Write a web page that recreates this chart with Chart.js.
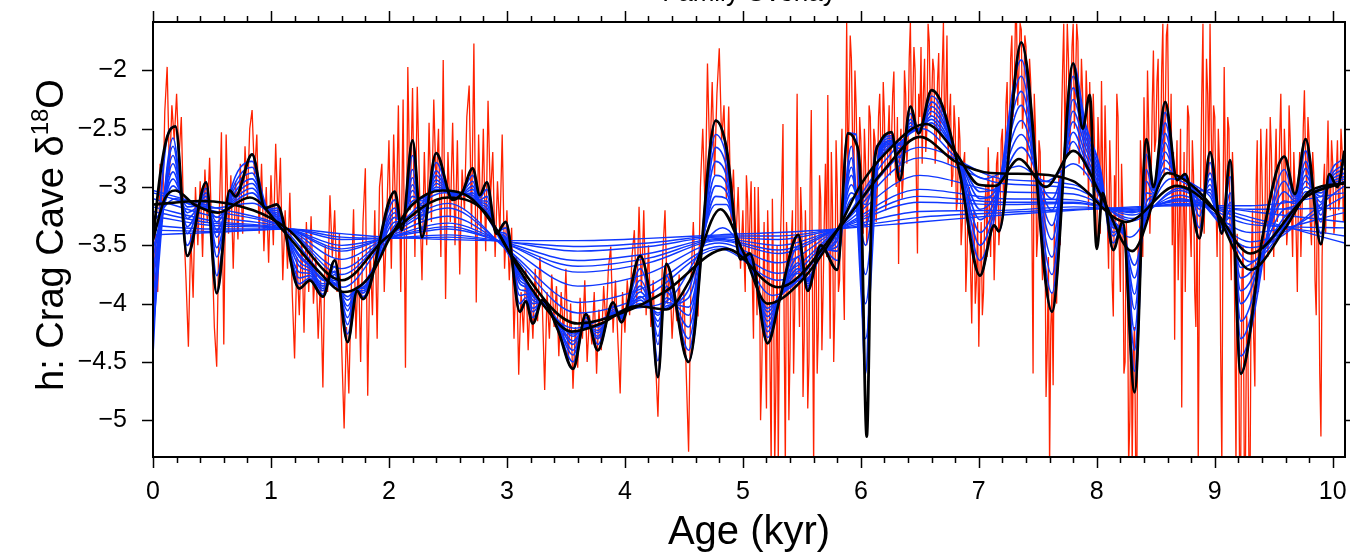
<!DOCTYPE html>
<html><head><meta charset="utf-8">
<script src="https://cdn.jsdelivr.net/npm/chart.js@4.4.1/dist/chart.umd.min.js"></script>
<style>html,body{margin:0;padding:0;background:#fff;overflow:hidden}#wrap{position:relative;width:1350px;height:554px}</style>
</head><body><div id="wrap"><canvas id="c" width="1350" height="554"></canvas></div>
<script>
// ---------- DATA ----------
const chartTitle = 'Family Overlay';
const xTitle = 'Age (kyr)';
const yTitleMain = 'h: Crag Cave \u03B4';
const yTitleSup = '18';
const yTitleEnd = 'O';
const xTickLabels = [0,1,2,3,4,5,6,7,8,9,10];
const yTickLabels = [-5,-4.5,-4,-3.5,-3,-2.5,-2];

// raw red record, part A: 0.00-4.98 kyr, step 0.02
const redAStart = 0, redAStep = 0.02;
const redAValues = [
-4.25,-3.4,-3.9,-2.8,-3.3,-2.35,-1.97,-2.9,-2.3,-2.6,-2.2,-2.75,-2.4,-3.3,-3.8,-4.37,-3.4,-3.95,-3.0,-3.5,-2.95,-3.6,-2.85,-3.3,-2.75,
-3.5,-4.2,-4.54,-3.3,-2.53,-4.35,-2.55,-3.4,-2.9,-3.7,-2.95,-3.45,-2.8,-3.4,-2.65,-3.1,-2.5,-2.34,-2.9,-2.55,-3.4,-2.8,-3.55,-3.0,-3.65,
-2.9,-3.5,-2.63,-3.3,-2.75,-3.8,-3.2,-3.7,-3.05,-3.9,-4.47,-3.6,-4.1,-3.4,-4.25,-3.3,-3.9,-3.25,-4.0,-3.6,-4.3,-3.8,-4.72,-3.5,-3.9,
-3.07,-3.6,-3.2,-3.9,-3.4,-4.4,-5.07,-4.2,-4.77,-3.9,-3.19,-4.3,-3.6,-4.5,-3.3,-2.84,-4.79,-3.5,-4.1,-3.2,-4.3,-3.0,-2.8,-3.9,-3.3,
-2.6,-3.7,-2.55,-3.4,-2.3,-3.9,-2.25,-4.55,-1.97,-3.2,-2.15,-3.6,-2.14,-3.05,-3.8,-2.7,-3.5,-2.45,-3.3,-2.25,-3.0,-2.5,-3.6,-1.91,-3.96,
-2.7,-3.3,-2.45,-3.5,-2.6,-3.75,-2.85,-3.2,-2.4,-2.13,-3.35,-1.77,-3.99,-2.55,-3.4,-2.5,-3.55,-2.26,-3.1,-2.7,-3.6,-2.95,-3.4,-2.55,-3.7,
-3.2,-3.8,-3.35,-4.3,-3.6,-4.61,-3.9,-4.25,-3.7,-4.4,-3.85,-4.3,-3.7,-4.15,-3.6,-4.0,-4.74,-3.9,-4.3,-3.75,-4.2,-3.85,-4.45,-3.9,-4.3,
-3.7,-4.5,-4.0,-4.73,-4.2,-4.55,-3.95,-4.3,-3.8,-4.5,-4.1,-4.35,-3.9,-4.6,-4.05,-4.4,-3.85,-4.2,-3.7,-3.51,-4.25,-3.8,-4.3,-4.77,-3.9,
-4.25,-3.8,-4.1,-3.6,-3.37,-4.0,-3.17,-3.9,-3.2,-4.1,-3.5,-4.2,-3.8,-4.5,-4.97,-4.2,-3.6,-3.2,-4.0,-3.7,-4.3,-3.9,-4.15,-3.75,-4.35,
-3.9,-4.6,-5.27,-3.8,-3.3,-3.9,-4.11,-3.0,-2.5,-3.2,-1.94,-2.8,-2.1,-2.9,-2.2,-1.81,-2.6,-2.3,-3.1,-2.31,-3.3,-2.85,-3.5,-3.0,-3.7
];
// raw red record, part B: 5.00-10.10 kyr, step 0.01 (denser sampling)
const redBStart = 5, redBStep = 0.01;
const redBValues = [
-3.2,-3.6,-3.9,-2.9,-3.1,-3.7,-3.26,-2.95,-3.8,-4.3,-3.0,-3.6,-4.1,-3.0,-3.5,-5.0,-4.6,-3.9,-3.3,-4.3,-4.9,-3.2,-3.6,-4.5,-5.4,-3.1,-3.8,-5.4,-4.7,-3.5,-5.4,-4.1,-3.4,-3.0,-2.46,-4.2,-5.4,-3.3,-3.6,-5.0,-4.4,-3.5,-3.2,-4.6,-4.0,-3.1,-2.2,-3.6,-4.2,-3.0,
-3.3,-4.8,-4.3,-3.2,-3.7,-4.9,-4.5,-3.0,-2.34,-3.9,-5.4,-3.4,-3.5,-4.6,-4.2,-2.9,-3.1,-4.4,-3.9,-3.3,-2.8,-3.6,-2.21,-3.4,-4.3,-2.7,-3.2,-4.5,-4.0,-2.6,-3.0,-3.9,-3.8,-2.9,-2.5,-3.7,-4.14,-2.8,-1.59,-2.9,-2.4,-1.7,-1.9,-2.6,-3.0,-2.0,-2.3,-2.9,-3.3,-2.4,
-2.6,-3.0,-3.4,-2.5,-2.8,-3.5,-3.1,-2.3,-2.4,-2.9,-3.2,-2.5,-2.6,-3.3,-3.0,-2.4,-2.2,-2.7,-2.9,-2.1,-2.4,-3.2,-3.1,-2.6,-2.3,-2.9,-2.6,-2.2,-2.01,-2.8,-3.0,-2.4,-3.66,-2.7,-2.5,-3.1,-2.9,-2.0,-2.2,-2.8,-2.6,-1.9,-1.59,-2.5,-2.3,-1.8,-2.0,-2.9,-3.57,-2.2,
-2.4,-1.8,-2.8,-2.2,-1.9,-2.7,-2.5,-1.6,-1.75,-2.4,-2.3,-1.9,-2.0,-2.8,-2.6,-2.1,-1.85,-2.6,-2.4,-2.0,-1.59,-2.5,-2.3,-1.7,-2.8,-2.4,-2.2,-3.0,-2.9,-2.3,-2.5,-3.2,-3.1,-2.4,-2.6,-3.5,-3.3,-2.8,-2.7,-3.9,-3.6,-3.1,-3.0,-3.7,-4.17,-3.4,-3.2,-4.0,-3.8,-3.3,
-4.37,-3.7,-3.3,-4.1,-3.9,-3.2,-3.0,-3.6,-2.66,-3.2,-3.6,-3.0,-2.9,-3.8,-3.4,-2.8,-2.7,-3.5,-3.3,-2.6,-2.5,-3.2,-2.9,-2.3,-2.1,-2.8,-2.5,-1.9,-1.7,-2.4,-2.2,-1.6,-1.6,-2.3,-2.0,-1.6,-1.65,-2.5,-2.3,-1.7,-1.8,-2.8,-2.6,-1.9,-2.1,-3.3,-4.6,-2.2,-2.5,-3.6,
-3.4,-2.6,-2.7,-3.5,-3.8,-2.9,-3.2,-4.8,-4.4,-3.6,-5.4,-4.2,-3.9,-4.7,-3.3,-3.8,-4.0,-3.1,-2.9,-3.5,-2.5,-2.0,-1.6,-2.6,-2.2,-1.6,-1.9,-2.7,-2.4,-1.8,-1.6,-2.5,-2.1,-1.6,-1.75,-2.8,-2.5,-1.9,-2.2,-2.9,-2.7,-2.0,-2.3,-3.2,-2.1,-2.6,-3.0,-2.2,-2.6,-3.4,
-3.5,-2.4,-2.7,-3.4,-2.09,-2.9,-3.2,-2.3,-2.8,-3.3,-3.7,-2.6,-3.0,-3.8,-4.11,-2.9,-3.3,-2.2,-2.4,-3.5,-3.9,-2.8,-3.2,-4.6,-4.5,-3.3,-3.6,-5.4,-5.0,-3.9,-5.4,-4.4,-4.2,-5.4,-5.4,-3.5,-3.8,-2.6,-2.9,-3.6,-2.23,-2.8,-3.2,-2.0,-2.5,-3.4,-3.0,-2.3,-1.83,-2.7,
-2.6,-2.1,-1.9,-3.0,-2.8,-2.0,-1.6,-2.9,-2.4,-1.7,-1.6,-2.5,-2.9,-2.2,-3.5,-2.7,-4.31,-3.0,-2.6,-3.8,-3.3,-2.5,-4.89,-3.4,-2.7,-3.9,-3.1,-2.3,-2.4,-3.3,-3.6,-2.6,-2.9,-3.9,-4.2,-3.0,-5.4,-3.7,-3.0,-2.2,-1.6,-3.4,-2.8,-1.9,-2.2,-2.9,-1.6,-2.5,-3.1,-2.3,
-2.4,-3.1,-3.6,-2.5,-2.8,-4.4,-5.4,-3.2,-1.97,-2.9,-3.3,-2.4,-2.5,-3.4,-3.8,-2.7,-3.0,-4.2,-5.4,-3.4,-4.0,-5.4,-5.4,-3.8,-3.5,-5.4,-5.4,-4.1,-4.3,-5.4,-5.4,-3.6,-3.2,-4.3,-4.71,-3.0,-2.6,-3.9,-3.5,-2.5,-2.9,-3.4,-3.8,-2.8,-2.5,-3.6,-3.3,-2.4,-2.7,-3.2,
-3.6,-2.9,-2.5,-3.3,-3.1,-2.6,-2.2,-2.9,-3.4,-2.5,-2.8,-3.5,-3.3,-2.3,-2.6,-3.2,-3.6,-2.7,-3.0,-3.4,-3.9,-3.0,-2.7,-3.6,-3.2,-2.5,-2.17,-2.8,-3.0,-2.4,-2.6,-3.3,-3.5,-2.7,-2.9,-3.8,-4.1,-3.1,-3.4,-4.6,-5.14,-3.6,-3.0,-2.8,-3.4,-2.9,-2.43,-3.1,-3.2,-2.6,-2.8,-3.4,-3.3,-2.9,-2.6,-3.2,-3.1,-2.5,-2.7,-3.3,-3.0
];

// finest smoothing (blue)
const fineX = [0,0.06,0.12,0.19,0.29,0.45,0.54,0.65,0.70,0.84,0.95,1.05,1.24,1.33,1.44,1.54,1.65,1.73,1.78,2.05,2.11,2.20,2.28,2.40,2.54,2.62,2.71,2.77,2.83,2.91,2.99,3.11,3.16,3.22,3.30,3.43,3.56,3.67,3.77,3.90,3.97,4.13,4.22,4.28,4.35,4.54,4.77,4.86,4.98,5.06,5.21,5.31,5.47,5.55,5.66,5.80,5.89,5.96,6.04,6.11,6.16,6.26,6.33,6.42,6.49,6.60,6.69,6.84,7.01,7.13,7.17,7.36,7.62,7.80,7.90,8.03,8.14,8.22,8.32,8.42,8.48,8.58,8.68,8.75,8.87,8.96,9.06,9.13,9.22,9.41,9.59,9.68,9.77,9.90,9.97,10.04,10.10];
const fineY = [-4.40,-3.20,-2.57,-2.48,-3.59,-2.96,-3.91,-3.03,-3.08,-2.72,-3.18,-3.15,-3.87,-3.80,-3.94,-3.63,-4.33,-3.89,-3.96,-3.04,-3.37,-2.60,-3.43,-2.71,-3.11,-3.05,-2.84,-3.07,-2.96,-3.40,-3.30,-4.07,-3.98,-4.17,-3.97,-4.22,-4.56,-4.09,-4.40,-3.99,-4.16,-3.59,-4.00,-4.63,-3.66,-4.50,-2.43,-2.66,-3.62,-3.57,-4.34,-3.97,-3.41,-3.89,-3.50,-3.71,-2.54,-2.55,-4.60,-2.80,-2.62,-2.53,-2.94,-2.31,-2.54,-2.17,-2.30,-2.89,-3.76,-3.33,-3.38,-1.76,-4.07,-1.94,-2.45,-2.85,-3.54,-3.30,-4.76,-2.59,-3.00,-2.27,-2.94,-2.89,-3.44,-2.70,-3.40,-2.77,-4.60,-3.40,-2.74,-3.06,-2.59,-3.49,-2.89,-3.00,-2.69];

// finest smoothing highlighted (black)
const blackAX = [0,0.06,0.12,0.19,0.29,0.45,0.54,0.65,0.70,0.84,0.95,1.05,1.24,1.33,1.44,1.54,1.65,1.73,1.78,2.05,2.11,2.20,2.28,2.40,2.54,2.62,2.71,2.77,2.83,2.91,2.99,3.11,3.16,3.22,3.30,3.43,3.56,3.67,3.77,3.90,3.97,4.13,4.22,4.28,4.35,4.54,4.77,4.86,4.98,5.06,5.21,5.31,5.47,5.55,5.66,5.80,5.89,5.95,6.00,6.05,6.09,6.12,6.16,6.26,6.33,6.42,6.49,6.60,6.69,6.84,7.01,7.13,7.17,7.36,7.62,7.80,7.88,7.94,8.00,8.05,8.14,8.22,8.32,8.42,8.48,8.58,8.68,8.75,8.87,8.96,9.06,9.13,9.22,9.41,9.59,9.68,9.77,9.90,9.97,10.04,10.10];
const blackAY = [-3.45,-2.90,-2.57,-2.48,-3.59,-2.96,-3.91,-3.03,-3.08,-2.72,-3.18,-3.15,-3.87,-3.80,-3.94,-3.63,-4.33,-3.89,-3.96,-3.04,-3.37,-2.60,-3.43,-2.71,-3.11,-3.05,-2.84,-3.07,-2.96,-3.40,-3.30,-4.07,-3.98,-4.17,-3.97,-4.22,-4.56,-4.09,-4.40,-3.99,-4.16,-3.59,-4.00,-4.63,-3.66,-4.50,-2.43,-2.66,-3.62,-3.57,-4.34,-3.97,-3.41,-3.89,-3.50,-3.71,-2.54,-2.60,-3.00,-5.14,-3.20,-2.75,-2.62,-2.53,-2.94,-2.31,-2.54,-2.17,-2.30,-2.89,-3.76,-3.33,-3.38,-1.76,-4.07,-1.94,-2.50,-2.21,-3.53,-3.05,-3.54,-3.30,-4.76,-2.59,-3.00,-2.27,-2.94,-2.89,-3.44,-2.70,-3.40,-2.77,-4.60,-3.40,-2.74,-3.06,-2.59,-3.49,-2.89,-3.00,-2.69];

// nested intermediate smoothings (blue), read at the knots below
const midX = [0,0.17,0.29,0.45,0.54,0.65,0.84,0.98,1.05,1.24,1.33,1.44,1.54,1.65,1.73,1.78,2.05,2.11,2.20,2.28,2.40,2.54,2.62,2.71,2.77,2.83,2.91,2.99,3.11,3.16,3.22,3.30,3.43,3.56,3.67,3.77,3.90,3.97,4.13,4.22,4.28,4.35,4.54,4.77,4.86,4.98,5.06,5.21,5.31,5.47,5.55,5.66,5.80,5.92,6.04,6.16,6.26,6.33,6.42,6.49,6.60,6.69,6.84,7.01,7.13,7.36,7.62,7.80,7.90,8.03,8.14,8.22,8.32,8.42,8.48,8.58,8.68,8.75,8.87,8.96,9.06,9.13,9.22,9.59,9.68,9.77,9.90,9.97,10.10];
const mid0Y = [-4.23,-2.58,-3.50,-3.01,-3.76,-3.06,-2.78,-3.19,-3.18,-3.83,-3.78,-3.92,-3.68,-4.26,-3.89,-3.94,-3.11,-3.35,-2.73,-3.36,-2.79,-3.10,-3.05,-2.90,-3.09,-3.02,-3.39,-3.35,-4.00,-3.95,-4.12,-3.98,-4.21,-4.50,-4.12,-4.35,-4.02,-4.15,-3.70,-4.01,-4.49,-3.76,-4.40,-2.55,-2.74,-3.60,-3.59,-4.29,-3.97,-3.51,-3.87,-3.52,-3.63,-2.65,-4.30,-2.65,-2.56,-2.87,-2.37,-2.53,-2.22,-2.34,-2.87,-3.63,-3.28,-1.91,-3.91,-2.05,-2.50,-2.89,-3.48,-3.32,-4.58,-2.72,-3.02,-2.36,-2.94,-2.90,-3.35,-2.79,-3.38,-2.91,-4.45,-2.85,-3.08,-2.69,-3.40,-2.92,-2.75];
const mid1Y = [-4.05,-2.65,-3.40,-3.05,-3.60,-3.08,-2.83,-3.20,-3.20,-3.78,-3.76,-3.89,-3.72,-4.18,-3.88,-3.91,-3.18,-3.33,-2.85,-3.28,-2.86,-3.08,-3.05,-2.95,-3.11,-3.08,-3.38,-3.40,-3.93,-3.92,-4.07,-3.98,-4.19,-4.44,-4.15,-4.30,-4.05,-4.13,-3.80,-4.02,-4.35,-3.85,-4.30,-2.66,-2.82,-3.58,-3.60,-4.24,-3.96,-3.60,-3.85,-3.53,-3.55,-2.75,-4.00,-2.67,-2.58,-2.80,-2.42,-2.52,-2.27,-2.38,-2.85,-3.50,-3.22,-2.05,-3.75,-2.15,-2.55,-2.92,-3.42,-3.33,-4.40,-2.85,-3.03,-2.45,-2.93,-2.90,-3.25,-2.88,-3.35,-3.05,-4.30,-2.95,-3.10,-2.78,-3.30,-2.95,-2.80];
const mid12Y = [-3.93,-2.73,-3.34,-3.08,-3.52,-3.10,-2.88,-3.21,-3.22,-3.73,-3.74,-3.87,-3.75,-4.12,-3.88,-3.89,-3.22,-3.32,-2.92,-3.24,-2.90,-3.07,-3.06,-2.99,-3.12,-3.12,-3.38,-3.43,-3.88,-3.89,-4.04,-3.99,-4.18,-4.40,-4.17,-4.28,-4.07,-4.12,-3.85,-4.03,-4.28,-3.90,-4.20,-2.78,-2.90,-3.57,-3.62,-4.20,-3.96,-3.65,-3.83,-3.55,-3.51,-2.83,-3.75,-2.69,-2.60,-2.75,-2.45,-2.52,-2.31,-2.42,-2.83,-3.39,-3.18,-2.18,-3.60,-2.25,-2.60,-2.95,-3.39,-3.35,-4.23,-2.95,-3.05,-2.54,-2.93,-2.91,-3.19,-2.93,-3.34,-3.13,-4.15,-3.04,-3.12,-2.84,-3.24,-2.96,-2.84];
const mid2Y = [-3.80,-2.80,-3.27,-3.11,-3.43,-3.12,-2.93,-3.21,-3.24,-3.68,-3.72,-3.85,-3.78,-4.06,-3.87,-3.87,-3.26,-3.30,-2.98,-3.20,-2.94,-3.06,-3.06,-3.02,-3.13,-3.15,-3.37,-3.45,-3.83,-3.86,-4.00,-3.99,-4.16,-4.35,-4.18,-4.25,-4.08,-4.11,-3.90,-4.03,-4.20,-3.95,-4.10,-2.90,-2.97,-3.55,-3.63,-4.15,-3.95,-3.70,-3.81,-3.56,-3.46,-2.90,-3.50,-2.71,-2.61,-2.70,-2.48,-2.51,-2.35,-2.45,-2.81,-3.28,-3.13,-2.30,-3.45,-2.35,-2.65,-2.98,-3.35,-3.36,-4.05,-3.05,-3.06,-2.62,-2.92,-2.92,-3.12,-2.98,-3.33,-3.20,-4.00,-3.12,-3.14,-2.90,-3.18,-2.97,-2.88];
const mid23Y = [-3.70,-2.87,-3.22,-3.13,-3.37,-3.14,-2.97,-3.22,-3.26,-3.64,-3.70,-3.83,-3.80,-4.02,-3.87,-3.86,-3.30,-3.29,-3.03,-3.16,-2.97,-3.06,-3.06,-3.05,-3.14,-3.18,-3.37,-3.47,-3.80,-3.84,-3.97,-4.00,-4.15,-4.32,-4.19,-4.23,-4.09,-4.10,-3.94,-4.04,-4.15,-3.99,-4.03,-2.99,-3.04,-3.54,-3.65,-4.11,-3.95,-3.74,-3.80,-3.57,-3.43,-2.98,-3.33,-2.73,-2.62,-2.67,-2.50,-2.51,-2.39,-2.49,-2.80,-3.19,-3.09,-2.43,-3.33,-2.44,-2.71,-3.01,-3.33,-3.37,-3.92,-3.13,-3.07,-2.70,-2.92,-2.93,-3.08,-3.02,-3.32,-3.26,-3.89,-3.19,-3.16,-2.95,-3.13,-2.98,-2.91];
const mid3Y = [-3.60,-2.93,-3.17,-3.15,-3.30,-3.15,-3.01,-3.22,-3.28,-3.60,-3.68,-3.80,-3.82,-3.97,-3.86,-3.84,-3.33,-3.28,-3.08,-3.12,-3.00,-3.05,-3.06,-3.07,-3.15,-3.21,-3.36,-3.48,-3.77,-3.82,-3.94,-4.00,-4.14,-4.28,-4.20,-4.20,-4.10,-4.09,-3.97,-4.04,-4.10,-4.02,-3.95,-3.08,-3.10,-3.52,-3.66,-4.07,-3.94,-3.78,-3.79,-3.58,-3.40,-3.05,-3.15,-2.74,-2.63,-2.64,-2.52,-2.50,-2.42,-2.52,-2.78,-3.10,-3.05,-2.55,-3.20,-2.53,-2.76,-3.03,-3.30,-3.38,-3.78,-3.20,-3.08,-2.77,-2.91,-2.93,-3.03,-3.05,-3.31,-3.32,-3.78,-3.26,-3.17,-3.00,-3.08,-2.99,-2.93];
const mid3BY = [-3.53,-2.99,-3.14,-3.17,-3.26,-3.16,-3.05,-3.22,-3.29,-3.58,-3.67,-3.79,-3.83,-3.94,-3.86,-3.83,-3.36,-3.28,-3.12,-3.10,-3.02,-3.05,-3.06,-3.09,-3.16,-3.23,-3.36,-3.49,-3.75,-3.81,-3.92,-4.00,-4.14,-4.26,-4.21,-4.19,-4.11,-4.09,-4.00,-4.04,-4.08,-4.04,-3.88,-3.15,-3.15,-3.51,-3.67,-4.04,-3.94,-3.80,-3.78,-3.59,-3.39,-3.10,-3.05,-2.76,-2.64,-2.62,-2.53,-2.50,-2.45,-2.55,-2.77,-3.04,-3.02,-2.66,-3.10,-2.61,-2.81,-3.05,-3.28,-3.39,-3.67,-3.25,-3.09,-2.84,-2.91,-2.94,-3.01,-3.08,-3.31,-3.36,-3.69,-3.32,-3.19,-3.04,-3.05,-3.00,-2.95];

// medium smoothing (black)
const blackBX = [0,0.1,0.19,0.35,0.55,0.82,1.1,1.4,1.62,1.85,2.0,2.2,2.45,2.7,2.9,3.1,3.3,3.55,3.8,4.1,4.35,4.55,4.81,5.0,5.21,5.5,5.8,6.0,6.2,6.55,6.8,7.0,7.14,7.34,7.57,7.8,8.05,8.3,8.6,8.8,9.0,9.3,9.6,9.8,10.1];
const blackBY = [-3.45,-3.1,-3.03,-3.15,-3.22,-3.09,-3.37,-3.72,-3.9,-3.75,-3.45,-3.15,-3.03,-3.1,-3.35,-3.7,-4.0,-4.24,-4.17,-4.02,-4.05,-3.8,-3.19,-3.55,-4.0,-3.8,-3.37,-2.98,-2.72,-2.46,-2.7,-2.98,-2.99,-2.76,-3.0,-2.69,-3.1,-3.55,-2.88,-2.98,-3.2,-3.71,-3.35,-3.04,-2.97];

// between medium and smooth (blue)
const blueBCX = [0,0.19,0.5,0.84,1.12,1.61,1.98,2.47,2.75,3.04,3.57,4.0,4.35,4.83,5.25,5.8,6.2,6.52,6.8,7.05,7.34,7.57,7.8,8.28,8.63,9.0,9.3,9.8,10.1];
const blueBCY = [-3.3,-3.1,-3.18,-3.14,-3.37,-3.86,-3.44,-3.05,-3.14,-3.62,-4.21,-4.05,-3.98,-3.35,-3.93,-3.37,-2.78,-2.5,-2.74,-2.93,-2.82,-2.95,-2.8,-3.43,-2.93,-3.2,-3.64,-3.06,-2.96];

// smooth (black)
const blackCX = [0,0.4,0.85,1.14,1.6,1.97,2.5,2.8,3.05,3.6,4.0,4.35,4.86,5.3,5.8,6.2,6.5,6.8,7.1,7.5,7.8,8.25,8.68,9.0,9.3,9.78,10.1];
const blackCY = [-3.15,-3.12,-3.2,-3.36,-3.8,-3.44,-3.09,-3.2,-3.6,-4.17,-4.07,-3.89,-3.53,-3.86,-3.37,-2.85,-2.57,-2.78,-2.88,-2.89,-2.95,-3.3,-2.99,-3.2,-3.57,-3.08,-2.96];

// smoothest members of the family (blue)
const smoothX = [0,0.5,1.14,1.6,1.97,2.5,3.0,3.6,4.2,4.8,5.3,5.8,6.5,7.2,7.8,8.3,8.7,9.3,10.1];
const smooth0Y = [-3.03,-3.17,-3.36,-3.75,-3.44,-3.14,-3.54,-4.08,-3.92,-3.53,-3.80,-3.36,-2.66,-2.93,-2.98,-3.29,-3.01,-3.52,-2.99];
const smooth1Y = [-3.05,-3.20,-3.36,-3.70,-3.44,-3.18,-3.53,-3.99,-3.85,-3.51,-3.74,-3.36,-2.75,-2.97,-3.01,-3.27,-3.03,-3.47,-3.08];
const smooth2Y = [-3.10,-3.25,-3.36,-3.62,-3.44,-3.25,-3.51,-3.85,-3.74,-3.48,-3.65,-3.36,-2.90,-3.04,-3.06,-3.24,-3.07,-3.39,-3.22];
const smooth3Y = [-3.17,-3.29,-3.36,-3.55,-3.44,-3.31,-3.49,-3.73,-3.65,-3.46,-3.57,-3.36,-3.02,-3.10,-3.11,-3.22,-3.10,-3.32,-3.35];
const smooth35Y = [-3.21,-3.31,-3.36,-3.53,-3.44,-3.34,-3.49,-3.68,-3.61,-3.45,-3.54,-3.36,-3.08,-3.13,-3.13,-3.21,-3.11,-3.29,-3.42];
const smooth4Y = [-3.25,-3.33,-3.36,-3.50,-3.44,-3.36,-3.48,-3.63,-3.57,-3.44,-3.50,-3.36,-3.13,-3.15,-3.14,-3.20,-3.12,-3.26,-3.48];
const smooth5Y = [-3.33,-3.36,-3.36,-3.45,-3.44,-3.41,-3.47,-3.55,-3.51,-3.43,-3.45,-3.36,-3.21,-3.20,-3.17,-3.19,-3.14,-3.21,-3.30];
const smooth55Y = [-3.37,-3.38,-3.36,-3.43,-3.44,-3.43,-3.47,-3.51,-3.48,-3.42,-3.42,-3.36,-3.26,-3.22,-3.19,-3.18,-3.15,-3.19,-3.18];
const smooth6Y = [-3.41,-3.39,-3.36,-3.40,-3.43,-3.45,-3.46,-3.46,-3.44,-3.41,-3.39,-3.36,-3.30,-3.24,-3.20,-3.17,-3.16,-3.16,-3.05];

// ---------- BUILD ----------
const FONT = '"Liberation Sans", Arial, Helvetica, sans-serif';
const RED = '#ff2200', BLUE = '#0f37ff', BLACK = '#000000';
function pts(xs, ys){ return xs.map((x,i)=>({x:x, y:ys[i]})); }
const r3 = v => Math.round(v*1000)/1000;
const redPts = redAValues.map((v,i)=>({x: r3(redAStart + i*redAStep), y: v}))
  .concat(redBValues.map((v,i)=>({x: r3(redBStart + i*redBStep), y: v})));

function curve(data, color, width, order){
  return {data, borderColor: color, borderWidth: width, pointRadius: 0, fill: false,
          cubicInterpolationMode: 'monotone', order};
}
const smoothSets = [smooth6Y, smooth55Y, smooth5Y, smooth4Y, smooth35Y, smooth3Y, smooth2Y, smooth1Y, smooth0Y];
const midSets = [mid3BY, mid3Y, mid23Y, mid2Y, mid12Y, mid1Y, mid0Y];
const datasets = [
  {data: redPts, borderColor: RED, borderWidth: 1.3, pointRadius: 0, fill: false, tension: 0, order: 30},
  ...smoothSets.map(s => curve(pts(smoothX, s), BLUE, 1.4, 20)),
  curve(pts(blueBCX, blueBCY), BLUE, 1.5, 20),
  ...midSets.map(s => curve(pts(midX, s), BLUE, 1.6, 20)),
  curve(pts(fineX, fineY), BLUE, 2, 20),
  curve(pts(blackCX, blackCY), BLACK, 2.6, 10),
  curve(pts(blackBX, blackBY), BLACK, 2.6, 10),
  curve(pts(blackAX, blackAY), BLACK, 2.8, 10)
];

const decor = {
  id: 'decor',
  afterDatasetsDraw(chart){
    const {ctx, chartArea: a, scales: {x, y}} = chart;
    ctx.save();
    ctx.strokeStyle = '#000';
    ctx.lineWidth = 1.5;
    ctx.beginPath();
    for (let k = 0; k <= 50; k++){
      const v = k/5;
      if (v > x.max) break;
      const px = Math.round(x.getPixelForValue(v)) + 0.5;
      const len = (k % 5 === 0) ? 11 : 6;
      ctx.moveTo(px, a.bottom); ctx.lineTo(px, a.bottom + len);
      ctx.moveTo(px, a.top); ctx.lineTo(px, a.top - len);
    }
    for (const v of yTickLabels){
      const py = Math.round(y.getPixelForValue(v)) + 0.5;
      ctx.moveTo(a.left - 11, py); ctx.lineTo(a.left, py);
      ctx.moveTo(a.right, py); ctx.lineTo(a.right + 11, py);
    }
    ctx.stroke();
    ctx.lineWidth = 2;
    ctx.strokeRect(a.left, a.top, a.right - a.left, a.bottom - a.top);
    ctx.restore();
  },
  afterDraw(chart){
    const {ctx, chartArea: a} = chart;
    const cx = (a.left + a.right) / 2;
    ctx.save();
    ctx.fillStyle = '#000';
    ctx.textAlign = 'center';
    ctx.textBaseline = 'alphabetic';
    ctx.font = '26px ' + FONT;
    ctx.fillText(chartTitle, cx, 1);
    ctx.font = '40px ' + FONT;
    ctx.fillText(xTitle, cx, 544);
    ctx.translate(63, 235);
    ctx.rotate(-Math.PI/2);
    ctx.textAlign = 'left';
    const big = '38px ' + FONT, small = '24px ' + FONT;
    ctx.font = big; const w1 = ctx.measureText(yTitleMain).width;
    const w3 = ctx.measureText(yTitleEnd).width;
    ctx.font = small; const w2 = ctx.measureText(yTitleSup).width;
    let sx = -(w1 + w2 + w3) / 2;
    ctx.font = big; ctx.fillText(yTitleMain, sx, 0); sx += w1;
    ctx.font = small; ctx.fillText(yTitleSup, sx, -15); sx += w2;
    ctx.font = big; ctx.fillText(yTitleEnd, sx, 0);
    ctx.restore();
  }
};

new Chart(document.getElementById('c'), {
  type: 'line',
  data: {datasets},
  options: {
    responsive: false, animation: false, devicePixelRatio: 1,
    parsing: false, normalized: true,
    layout: {padding: {top: 22, right: 5, left: 0, bottom: 0}},
    plugins: {legend: {display: false}, tooltip: {enabled: false}, title: {display: false}},
    scales: {
      x: {type: 'linear', min: 0, max: 10.104,
          grid: {display: false, drawTicks: false}, border: {display: false},
          ticks: {stepSize: 1, autoSkip: false, includeBounds: false, maxRotation: 0,
                  color: '#000', font: {family: FONT, size: 25}, padding: 20,
                  callback: v => xTickLabels.includes(v) ? String(v) : ''},
          afterFit: s => { s.height = 97; s.paddingLeft = 0; s.paddingRight = 0; }},
      y: {type: 'linear', min: -5.315, max: -1.585,
          grid: {display: false, drawTicks: false}, border: {display: false},
          ticks: {stepSize: 0.5, includeBounds: false, color: '#000',
                  font: {family: FONT, size: 25}, padding: 26,
                  callback: v => { const r = Math.round(v*100)/100; return (r < 0 ? '\u2212' : '') + Math.abs(r); }},
          afterFit: s => { s.width = 153; s.paddingTop = 0; s.paddingBottom = 0; }}
    }
  },
  plugins: [decor]
});
</script></body></html>
